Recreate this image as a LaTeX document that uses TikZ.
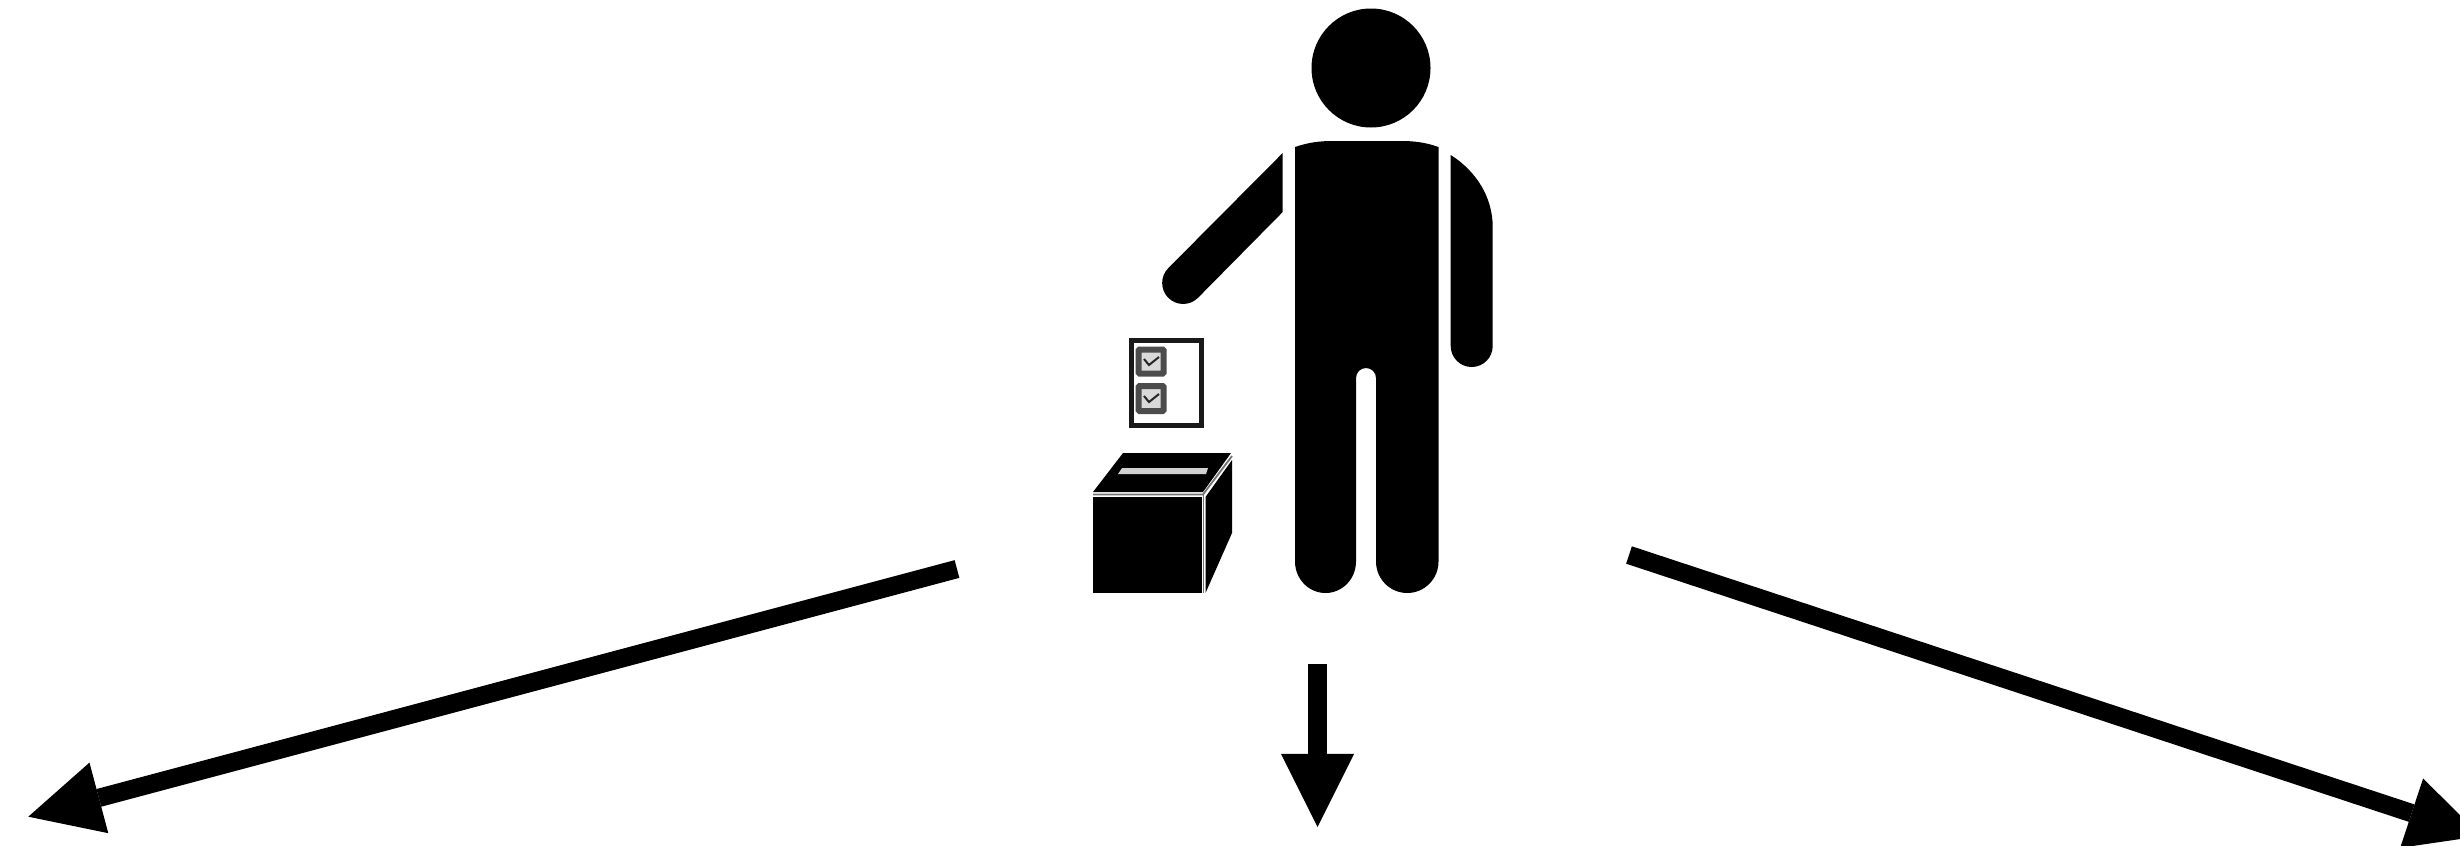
\documentclass[tikz,border=0pt]{standalone}
\usetikzlibrary{arrows.meta}
\tikzset{
  solidpart/.style={fill=black,draw=none},
  votearrow/.style={draw=black,line width=0.183cm,line cap=butt,
    -{Triangle[length=0.73cm,width=0.73cm,line width=0pt]}},
  ballotframe/.style={draw=black!90,fill=white,line width=0.05cm},
  checkframe/.style={draw=black!70,fill=white!85!black,line width=0.06cm,rounded corners=0.01cm},
  checkstroke/.style={draw=black!85,line width=0.02cm},
  boxedge/.style={draw=black!55,line width=0.018cm},
  slotmark/.style={fill=white!82!black,draw=none},
}
\begin{document}
\begin{tikzpicture}[x=0.01cm,y=-0.01cm]
\useasboundingbox (0,0) rectangle (2460,845);
\clip (0,0) rectangle (2460,845);
% head
\fill[solidpart] (1371,68) circle [x radius=59.5,y radius=59.5];
% body with legs
\fill[solidpart] (1295,147) .. controls (1308,142.5) and (1320,141) .. (1332,141)
  -- (1402,141) .. controls (1414,141) and (1426,142.5) .. (1438.5,147)
  -- (1438.5,561.5) arc[start angle=0,end angle=180,x radius=31.25,y radius=31.5]
  -- (1376,378) arc[start angle=0,end angle=-180,x radius=10,y radius=10]
  -- (1356,561.5) arc[start angle=0,end angle=180,x radius=30.5,y radius=31.5]
  -- cycle;
% raised arm
\fill[solidpart] (1282.7,153) -- (1282.7,212) -- (1198,297.8)
  arc[start angle=45,end angle=225,x radius=21,y radius=21] -- cycle;
% hanging arm
\fill[solidpart] (1450.7,155) .. controls (1476,171) and (1492.7,197) .. (1492.7,227)
  -- (1492.7,346) arc[start angle=0,end angle=180,x radius=21,y radius=21] -- cycle;
% ballot paper
\draw[ballotframe] (1131.5,340.5) rectangle (1201.5,425.5);
\draw[checkframe] (1138.5,349.5) rectangle (1163.5,373.5);
\draw[checkstroke] (1144,359) -- (1149,365) -- (1159,357);
\draw[checkframe] (1138.5,386) rectangle (1163.5,411);
\draw[checkstroke] (1144,396) -- (1149,402) -- (1159,394);
% ballot box
\fill[solidpart] (1093,492) -- (1123,453) -- (1231,453) -- (1203,492) -- cycle;
\fill[solidpart] (1093,497) rectangle (1202,593);
\fill[solidpart] (1205.5,497) -- (1232,460) -- (1232,533) -- (1205.5,593) -- cycle;
\fill[slotmark] (1122,468) -- (1208,468) -- (1206,474) -- (1118,474) -- cycle;
\draw[boxedge] (1093,494.5) -- (1203,494.5) -- (1232,456);
\draw[boxedge] (1203.5,494.5) -- (1203.5,593);
% arrows
\coordinate (leftstart) at (957,569);
\coordinate (lefttip) at (28.3,816.7);
\coordinate (midstart) at (1317.5,664);
\coordinate (midtip) at (1317.5,827);
\coordinate (rightstart) at (1629,555);
\coordinate (righttip) at (2481,836);
\draw[votearrow] (leftstart) -- (lefttip);
\draw[votearrow] (midstart) -- (midtip);
\draw[votearrow] (rightstart) -- (righttip);
\end{tikzpicture}
\end{document}
